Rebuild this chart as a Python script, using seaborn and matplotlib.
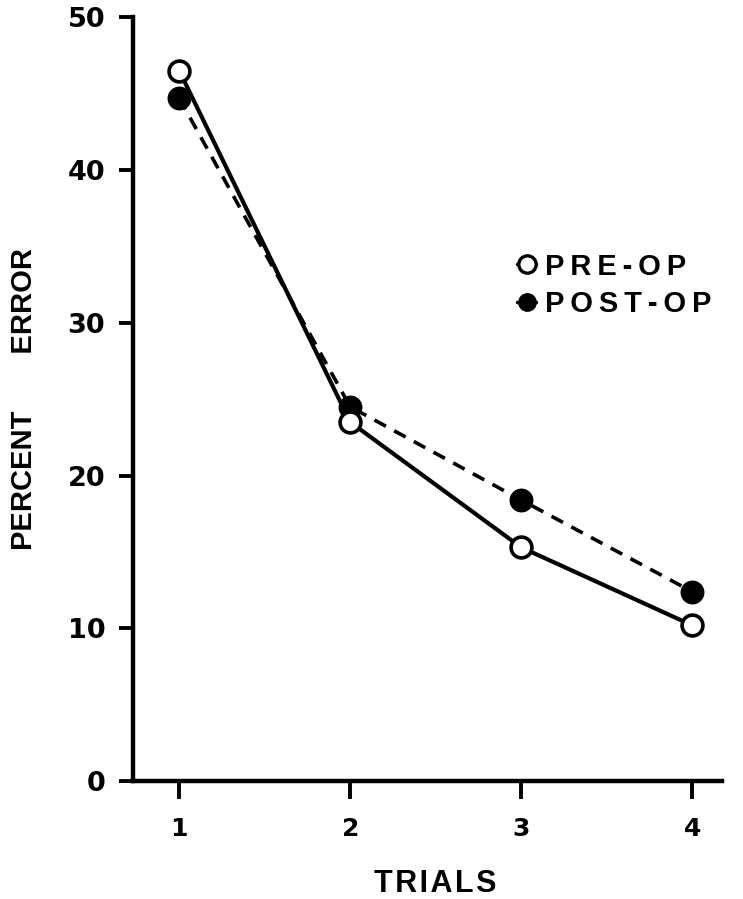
import matplotlib
matplotlib.use("Agg")
import matplotlib.pyplot as plt
from matplotlib.lines import Line2D
import pandas as pd
import seaborn as sns

# values
trials = [1, 2, 3, 4]
pre_op = [46.5, 23.5, 15.3, 10.2]
post_op = [44.7, 24.5, 18.4, 12.4]
labels = ['PRE-OP', 'POST-OP']

sns.set_style("ticks")
plt.rcParams['font.family'] = ['DejaVu Sans']
plt.rcParams['font.weight'] = 'bold'
for k in ['text.color', 'axes.edgecolor', 'axes.labelcolor', 'xtick.color', 'ytick.color']:
    plt.rcParams[k] = 'black'

lettering = ['Liberation Sans', 'DejaVu Sans']


def spaced(s, gap='\u2009'):
    # the original lettering is widely tracked
    return gap.join(s)


df = pd.DataFrame({'trial': trials * 2,
                   'error': pre_op + post_op,
                   'group': [labels[0]] * 4 + [labels[1]] * 4})

fig = plt.figure(figsize=(7.43, 8.99), dpi=100)
ax = fig.add_axes([0.179, 0.131, 0.793, 0.85])

sns.lineplot(data=df[df.group == 'POST-OP'], x='trial', y='error', ax=ax,
             color='black', lw=2.6, linestyle=(0, (3.6, 2.6)),
             marker='o', markersize=15, markerfacecolor='black',
             markeredgecolor='black', markeredgewidth=2.2)
sns.lineplot(data=df[df.group == 'PRE-OP'], x='trial', y='error', ax=ax,
             color='black', lw=3.0,
             marker='o', markersize=15, markerfacecolor='white',
             markeredgecolor='black', markeredgewidth=2.6)

ax.set_xlim(0.73, 4.175)
ax.set_ylim(0, 50)
ax.set_xticks(trials)
ax.set_yticks([0, 10, 20, 30, 40, 50])
sns.despine(ax=ax)
for s in ['left', 'bottom']:
    ax.spines[s].set_linewidth(3.2)
ax.tick_params(axis='x', width=2.8, length=13, labelsize=18, pad=13)
ax.tick_params(axis='y', width=2.8, length=10, labelsize=19.5, pad=10)
ax.set_xlabel(spaced('TRIALS', '\u200a'), fontsize=22, fontweight='bold',
              family=lettering)
ax.xaxis.set_label_coords(0.513, -0.115)
ax.set_ylabel('PERCENT' + ' ' * 7 + 'ERROR', fontsize=21, fontweight='bold',
              family=lettering)
ax.yaxis.set_label_coords(-0.162, 0.5)
for t in ax.get_xticklabels() + ax.get_yticklabels():
    t.set_fontweight('bold')

handles = [Line2D([], [], color='black', lw=2.5, marker='o', markersize=12.5,
                  markerfacecolor='white', markeredgecolor='black', markeredgewidth=2.4),
           Line2D([], [], color='black', lw=2.5, marker='o', markersize=12.5,
                  markerfacecolor='black', markeredgecolor='black')]
ax.legend(handles, [spaced(l) for l in labels], loc='upper left',
          bbox_to_anchor=(0.608, 0.726), frameon=False,
          prop={'size': 21, 'weight': 'bold', 'family': lettering},
          handletextpad=0.3, labelspacing=0.32, handlelength=0.65)

fig.savefig('out.png', dpi=100)
